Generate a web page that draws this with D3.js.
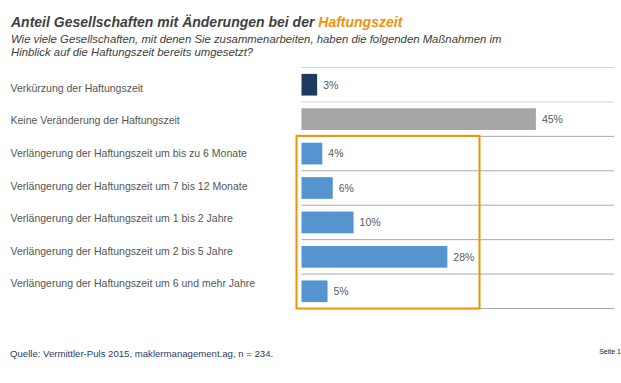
<!DOCTYPE html>
<html><head><meta charset="utf-8">
<script src="https://cdn.jsdelivr.net/npm/d3@7"></script>
<style>body{margin:0;background:#fff;}svg{display:block;font-family:"Liberation Sans",Arial,sans-serif;}</style>
</head><body>
<svg id="c" width="621" height="383"></svg>
<script>
const categories = [
  "Verkürzung der Haftungszeit",
  "Keine Veränderung der Haftungszeit",
  "Verlängerung der Haftungszeit um bis zu 6 Monate",
  "Verlängerung der Haftungszeit um 7 bis 12 Monate",
  "Verlängerung der Haftungszeit um 1 bis 2 Jahre",
  "Verlängerung der Haftungszeit um 2 bis 5 Jahre",
  "Verlängerung der Haftungszeit um 6 und mehr Jahre"
];
const values = [3, 45, 4, 6, 10, 28, 5];
const groups = ["short", "none", "long", "long", "long", "long", "long"];
const colors = {short: "#1c3a5e", none: "#a6a6a6", long: "#5694d0"};

const svg = d3.select("#c");
const x = d3.scaleLinear().domain([0, 60]).range([301.5, 614]);
const y = d3.scaleBand().domain(categories).range([67.5, 308.5]).paddingInner(0.37).paddingOuter(0.185);
const yLab = d3.scalePoint().domain(categories).range([91.7, 287.3]);

// title
const t = svg.append("text").attr("x", 11).attr("y", 27)
  .attr("font-size", 14).attr("font-weight", "bold").attr("font-style", "italic").attr("fill", "#3f3f3f");
t.append("tspan").text("Anteil Gesellschaften mit Änderungen bei der ");
t.append("tspan").attr("fill", "#f0920a").text("Haftungszeit");
svg.append("text").attr("x", 11).attr("y", 43).attr("font-size", 11.35).attr("font-style", "italic").attr("fill", "#404040")
  .text("Wie viele Gesellschaften, mit denen Sie zusammenarbeiten, haben die folgenden Maßnahmen im");
svg.append("text").attr("x", 11).attr("y", 56).attr("font-size", 11.35).attr("font-style", "italic").attr("fill", "#404040")
  .text("Hinblick auf die Haftungszeit bereits umgesetzt?");

// separators
const lines = d3.range(categories.length + 1).map(i => 67.5 + i * (308.5 - 67.5) / categories.length);
svg.selectAll("line.sep").data(lines).join("line").attr("class", "sep")
  .attr("x1", x(0)).attr("x2", x.range()[1]).attr("y1", d => d).attr("y2", d => d)
  .attr("stroke", (d, i) => i < 2 ? "#d5d6dd" : "#a9a9ad").attr("stroke-width", 1);

// bars
svg.selectAll("rect.bar").data(values).join("rect").attr("class", "bar")
  .attr("x", x(0)).attr("y", (d, i) => y(categories[i]))
  .attr("width", d => x(d) - x(0)).attr("height", y.bandwidth())
  .attr("fill", (d, i) => colors[groups[i]]);

// value labels
svg.selectAll("text.val").data(values).join("text").attr("class", "val")
  .attr("x", d => x(d) + 6).attr("y", (d, i) => y(categories[i]) + y.bandwidth() / 2 + 3.8)
  .attr("font-size", 10.5).attr("fill", "#5a5a5a").text(d => d + "%");

// category labels
svg.selectAll("text.cat").data(categories).join("text").attr("class", "cat")
  .attr("x", 10.5).attr("y", d => yLab(d))
  .attr("font-size", 10.5).attr("fill", "#555").text(d => d);

// highlight box
const boxTop = y(categories[2]) - (y.step() - y.bandwidth()) / 2;
svg.append("rect").attr("x", 296.5).attr("y", boxTop - 0.5)
  .attr("width", 183).attr("height", 308.5 - boxTop + 0.5)
  .attr("fill", "none").attr("stroke", "#f39200").attr("stroke-width", 2);

// footer
svg.append("text").attr("x", 10).attr("y", 357.3).attr("font-size", 9.6).attr("fill", "#1f3d66")
  .text("Quelle: Vermittler-Puls 2015, maklermanagement.ag, n = 234.");
svg.append("text").attr("x", 621).attr("y", 354).attr("text-anchor", "end").attr("font-size", 7).attr("fill", "#222")
  .text("Seite 1");
</script>
</body></html>
